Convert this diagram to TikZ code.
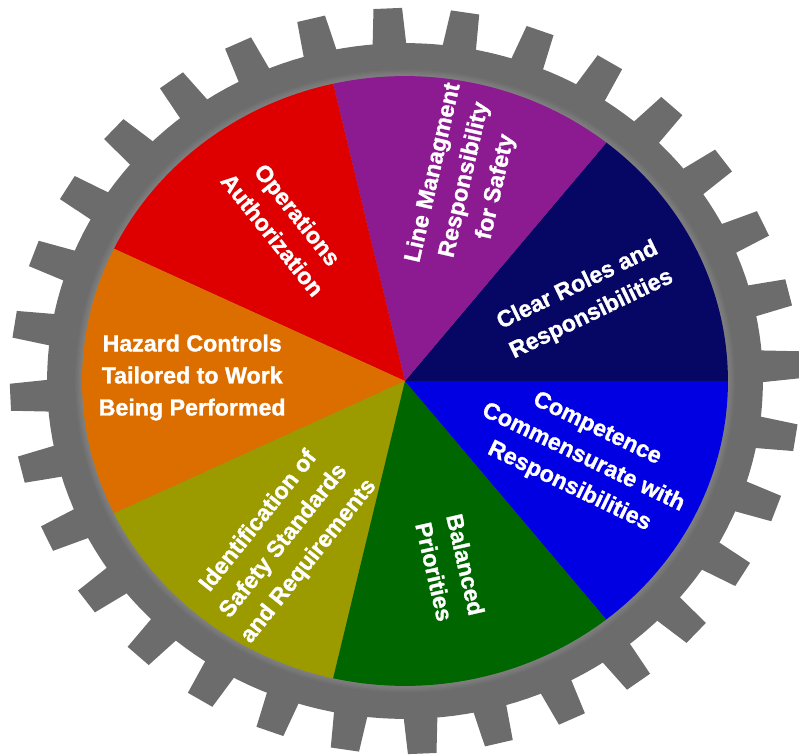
\documentclass[tikz,border=0pt]{standalone}
\usepackage{fontspec}
\usepackage{xcolor}
\usepackage{tikz}
\usetikzlibrary{calc}
\newfontfamily\wedgefont[FakeBold=1.2]{Liberation Sans Bold}
\definecolor{gearGray}{RGB}{108,108,108}
\definecolor{ringLight}{RGB}{140,140,140}
\definecolor{wedgeNavy}{RGB}{6,6,100}
\definecolor{wedgePurple}{RGB}{140,26,145}
\definecolor{wedgeRed}{RGB}{222,0,0}
\definecolor{wedgeOrange}{RGB}{220,110,0}
\definecolor{wedgeOlive}{RGB}{155,155,0}
\definecolor{wedgeGreen}{RGB}{0,102,0}
\definecolor{wedgeBlue}{RGB}{0,0,226}

\begin{document}
\begin{tikzpicture}[x=0.02647cm,y=0.025cm,
  wedgeText/.style={text=white,align=center,inner sep=0pt,
    font=\wedgefont\fontsize{16.5}{22.8}\selectfont}]
\useasboundingbox (-10.125cm,-9.35cm) rectangle (9.85cm,9.525cm);
\fill[gearGray] plot[domain=0:360,samples=181] (\x:338) -- cycle;
\foreach \a in {2.5,13.75,...,355}
  \fill[gearGray] ($(\a:328)+(\a+90:16.5)$) -- ($(\a:373)+(\a+90:13.5)$)
    -- ($(\a:373)+(\a-90:13.5)$) -- ($(\a:328)+(\a-90:16.5)$) -- cycle;
\foreach \i in {0,...,6}
  \fill[ringLight!\i0!gearGray] plot[domain=0:360,samples=181] (\x:{313-1.2*\i}) -- cycle;
\foreach \c [count=\i from 0] in {wedgeNavy,wedgePurple,wedgeRed,wedgeOrange,wedgeOlive,wedgeGreen,wedgeBlue}{
  \pgfmathsetmacro\sa{\i*360/7}
  \pgfmathsetmacro\sb{(\i+1)*360/7}
  \fill[\c] (0,0) -- plot[domain=\sa:\sb,samples=40] (\x:305) -- cycle;
}
\node[wedgeText,rotate=25.71] (roles) at (25.5:188) {Clear Roles and\\Responsibilities};
\node[wedgeText,rotate=77.14] (linemgmt) at (74.3:209) {Line Managment\\Responsibility\\for Safety};
\node[wedgeText,rotate=-51.43] (opsauth) at (125.9:193) {Operations\\Authorization};
\node[wedgeText] (hazard) at (179:201) {Hazard Controls\\Tailored to Work\\Being Performed};
\node[wedgeText,rotate=51.43] (identify) at (234.5:197) {Identification of\\Safety Standards\\and Requirements};
\node[wedgeText,rotate=-77.14] (balanced) at (-77.2:192) {Balanced\\Priorities};
\node[wedgeText,rotate=-25.71] (competence) at (-24.6:185) {Competence\\Commensurate with\\Responsibilities};
\end{tikzpicture}
\end{document}
